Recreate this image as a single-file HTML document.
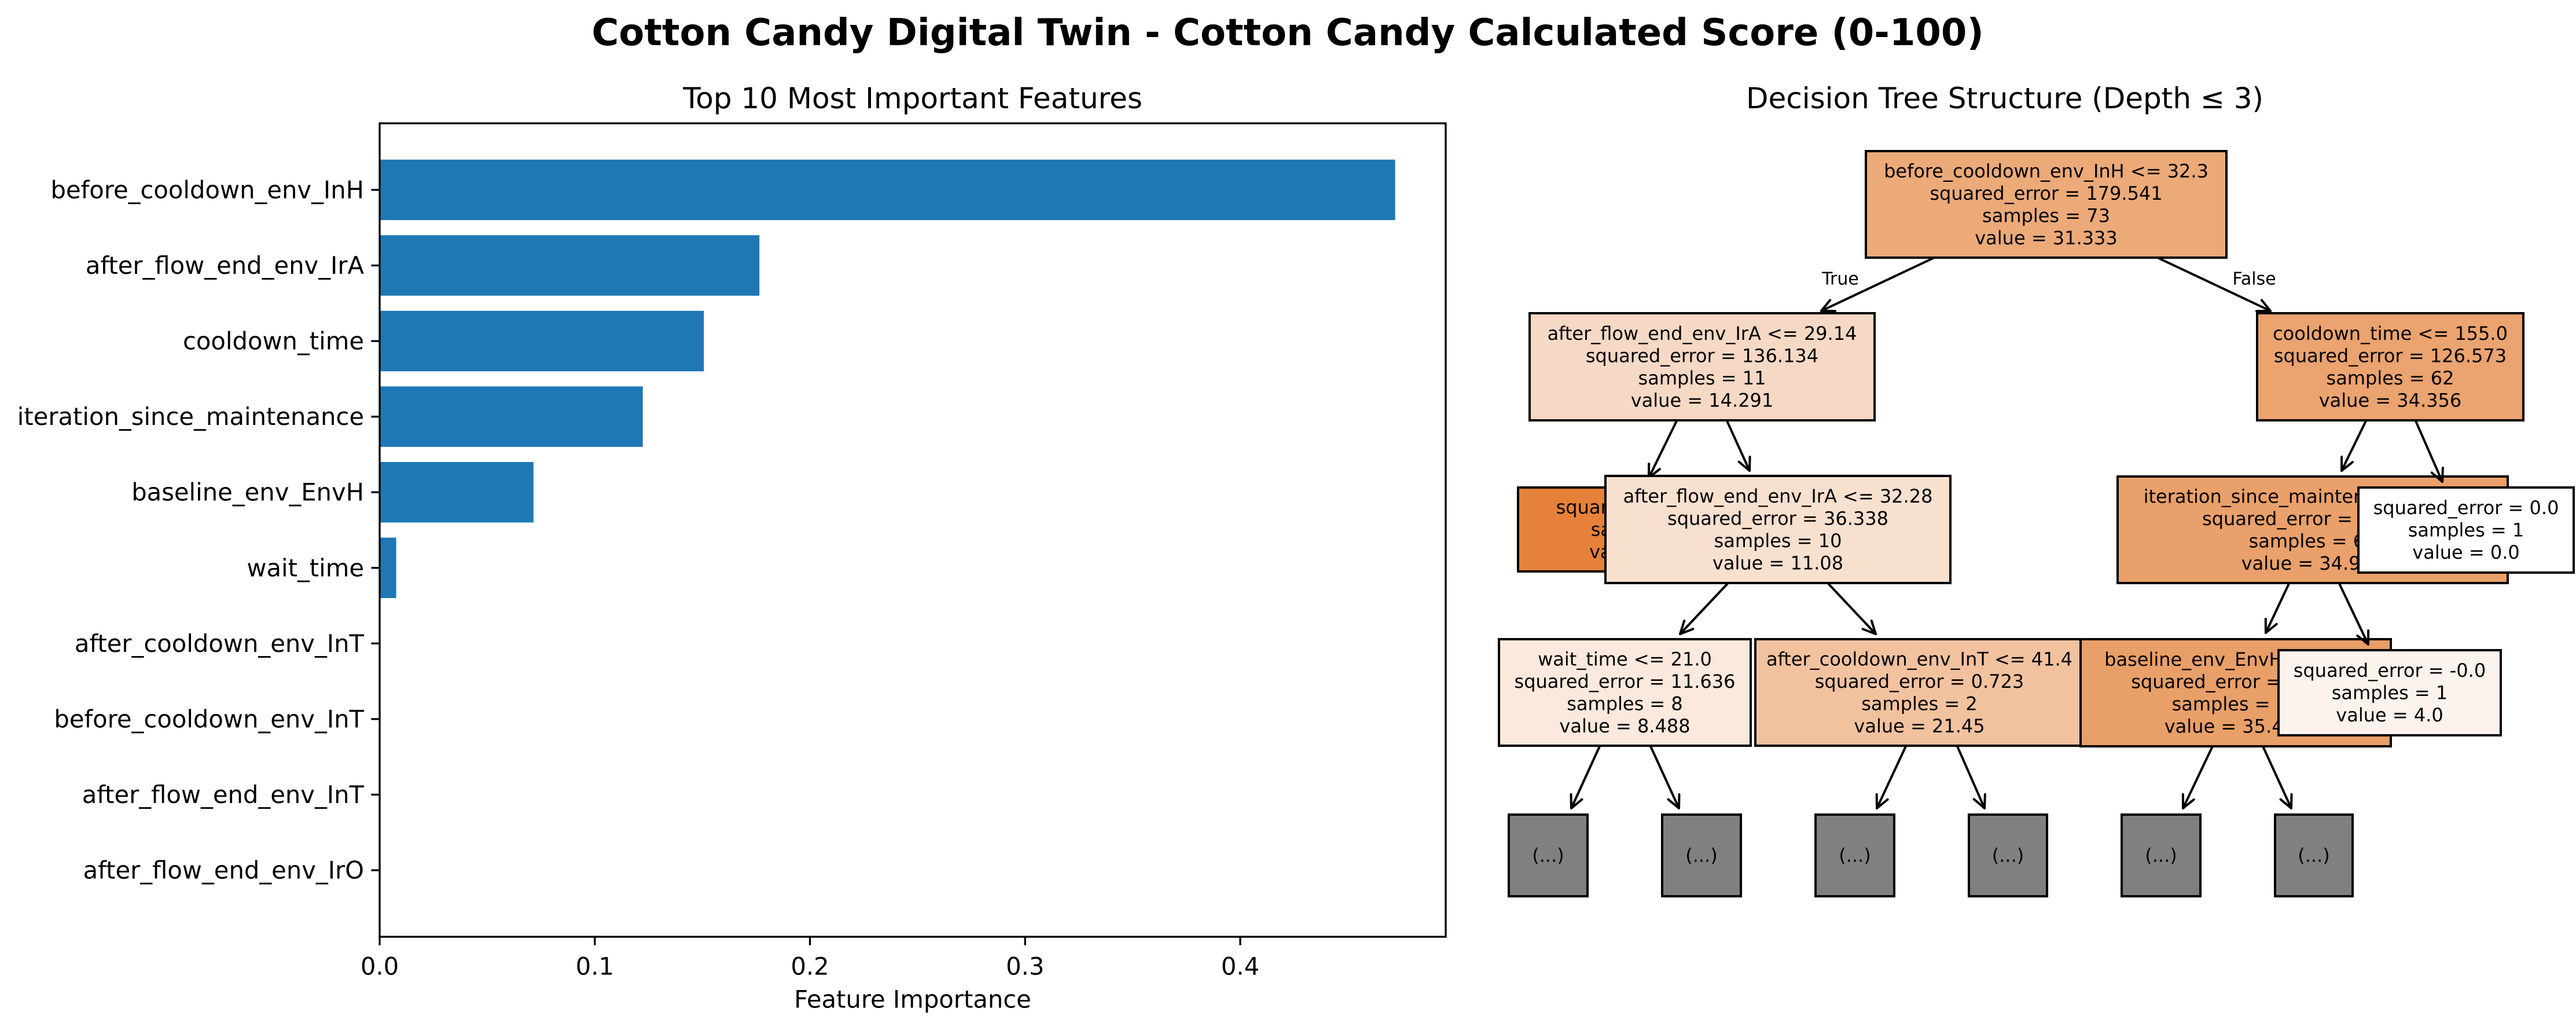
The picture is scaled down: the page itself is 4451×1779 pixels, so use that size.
<!DOCTYPE html>
<html><head><meta charset="utf-8"><style>
html,body{margin:0;padding:0;background:#fff}
svg{display:block}
text{font-family:"DejaVu Sans","Liberation Sans",sans-serif;fill:#000}
</style></head><body>
<svg id="fig" width="4451" height="1779" viewBox="0 0 4451 1779" xmlns="http://www.w3.org/2000/svg">
<rect width="4451" height="1779" fill="#fff"/>
<text x="2225" y="57" font-size="64" font-weight="bold" text-anchor="middle" dominant-baseline="central">Cotton Candy Digital Twin - Cotton Candy Calculated Score (0-100)</text>
<g id="bars"></g>
<text x="3464" y="170" font-size="50" text-anchor="middle" dominant-baseline="central">Decision Tree Structure (Depth ≤ 3)</text>
<g id="tree"></g>
</svg>
<script>
const features = ["before_cooldown_env_InH","after_flow_end_env_IrA","cooldown_time","iteration_since_maintenance","baseline_env_EnvH","wait_time","after_cooldown_env_InT","before_cooldown_env_InT","after_flow_end_env_InT","after_flow_end_env_IrO"];
const importances = [0.472,0.1765,0.1507,0.1223,0.0715,0.0077,0,0,0,0];
const xTicks = [0,0.1,0.2,0.3,0.4];
const xTickLabels = ["0.0","0.1","0.2","0.3","0.4"];

const NS="http://www.w3.org/2000/svg";
function mk(tag,attrs,parent){const e=document.createElementNS(NS,tag);for(const k in attrs)e.setAttribute(k,attrs[k]);parent.appendChild(e);return e;}
const g=document.getElementById('bars');
const L=656,R=2498,T=213,B=1618;
const xmax=0.4955;
const xs=v=>L+(v/xmax)*(R-L);
const n=features.length;
const ylo=-0.4-0.049*(n-0.2), yhi=(n-1)+0.4+0.049*(n-0.2);
const ys=i=>T+(i-ylo)/(yhi-ylo)*(B-T);
const bh=0.8*(B-T)/(yhi-ylo);
features.forEach((f,i)=>{
  const r=mk('rect',{x:xs(0),y:ys(i)-bh/2,width:Math.max(0,xs(importances[i])-xs(0)),height:bh,fill:'#1f77b4'},g);
  
  
  const tk=mk('line',{x1:L-14.6,x2:L,y1:ys(i),y2:ys(i),stroke:'#000','stroke-width':3.3},g);
  
  
  const t=mk('text',{x:L-27,y:ys(i),'font-size':41.7,'text-anchor':'end','dominant-baseline':'central'},g);
  t.textContent=f;
  
  
});
xTicks.forEach((v,i)=>{
  const tk=mk('line',{x1:xs(v),x2:xs(v),y1:B,y2:B+14.6,stroke:'#000','stroke-width':3.3},g);
  
  
  const t=mk('text',{x:xs(v),y:1669,'font-size':41.7,'text-anchor':'middle','dominant-baseline':'central'},g);
  t.textContent=xTickLabels[i];
  
  
});
const fr=mk('rect',{x:L,y:T,width:R-L,height:B-T,fill:'none',stroke:'#000','stroke-width':3.3},g);


const xl=mk('text',{x:(L+R)/2,y:1726,'font-size':41.7,'text-anchor':'middle','dominant-baseline':'central'},g);
xl.textContent='Feature Importance';


const tl=mk('text',{x:(L+R)/2,y:170,'font-size':50,'text-anchor':'middle','dominant-baseline':'central'},g);
tl.textContent='Top 10 Most Important Features';



// tree
const tg=document.getElementById('tree');
function arrow(x1,y1,x2,y2){
  const a=mk('g',{},tg);
  
  
  mk('line',{x1:x1,y1:y1,x2:x2,y2:y2,stroke:'#000','stroke-width':4},a);
  const ang=Math.atan2(y2-y1,x2-x1),len=24,sp=0.45;
  [ang+Math.PI-sp,ang+Math.PI+sp].forEach(b=>mk('line',{x1:x2,y1:y2,x2:x2+len*Math.cos(b),y2:y2+len*Math.sin(b),stroke:'#000','stroke-width':4,'stroke-linecap':'round'},a));
}
function node(name,x1,y1,x2,y2,fill,lines){
  const ng=mk('g',{},tg);
  
  
  mk('rect',{x:x1,y:y1,width:x2-x1,height:y2-y1,fill:fill,stroke:'#000','stroke-width':4},ng);
  const cx=(x1+x2)/2,cy=(y1+y2)/2,sp=38.5;
  lines.forEach((l,i)=>{
    const t=mk('text',{x:cx,y:cy+(i-(lines.length-1)/2)*sp,'font-size':32,'text-anchor':'middle','dominant-baseline':'central'},ng);
    t.textContent=l;
  });
}
function label(x,y,s){
  const t=mk('text',{x:x,y:y,'font-size':30,'text-anchor':'middle','dominant-baseline':'central'},tg);
  t.textContent=s;
  
  
}
node('root-node',3224,261,3847,445,'#ecaa78',['before_cooldown_env_InH <= 32.3','squared_error = 179.541','samples = 73','value = 31.333']);
arrow(3340,446,3147,537);label(3180,482,'True');
node('node-after-flow-irA-29',2643,541,3239,726,'#f6d9c4',['after_flow_end_env_IrA <= 29.14','squared_error = 136.134','samples = 11','value = 14.291']);
arrow(2897,727,2849,825);
node('leaf-dark',2623,842,3075,987,'#e58139',['squared_error = 0.0','samples = 1','value = 47.0']);
arrow(2984,727,3023,813);
node('node-after-flow-irA-32',2774,822,3370,1007,'#f8e0cf',['after_flow_end_env_IrA <= 32.28','squared_error = 36.338','samples = 10','value = 11.08']);
arrow(2985,1008,2903,1095);
node('node-wait-time',2590,1104,3025,1288,'#fae9dc',['wait_time <= 21.0','squared_error = 11.636','samples = 8','value = 8.488']);
arrow(2764,1289,2715,1396);
node('truncated-1',2607,1407,2743,1548,'#808080',['(...)']);
arrow(2852,1289,2901,1396);
node('truncated-2',2872,1407,3008,1548,'#808080',['(...)']);
arrow(3159,1008,3241,1095);
node('node-after-cooldown-inT',3033,1104,3600,1288,'#f2c29f',['after_cooldown_env_InT <= 41.4','squared_error = 0.723','samples = 2','value = 21.45']);
arrow(3293,1289,3243,1396);
node('truncated-3',3137,1407,3273,1548,'#808080',['(...)']);
arrow(3382,1289,3429,1396);
node('truncated-4',3402,1407,3537,1548,'#808080',['(...)']);
arrow(3730,446,3923,537);label(3895,482,'False');
node('node-cooldown-time',3900,541,4360,726,'#eba36f',['cooldown_time <= 155.0','squared_error = 126.573','samples = 62','value = 34.356']);
arrow(4088,727,4046,813);
node('node-iteration',3659,823,4333,1007,'#eaa06a',['iteration_since_maintenance <= 2.5','squared_error = 106.52','samples = 61','value = 34.919']);
arrow(3955,1008,3915,1093);
node('node-baseline-envH',3595,1104,4131,1289,'#e99f68',['baseline_env_EnvH <= 45.5','squared_error = 90.12','samples = 60','value = 35.433']);
arrow(3823,1289,3772,1396);
node('truncated-5',3666,1407,3802,1548,'#808080',['(...)']);
arrow(3910,1289,3959,1396);
node('truncated-6',3931,1407,4065,1548,'#808080',['(...)']);
arrow(4042,1008,4092,1113);
node('leaf-value-4',3937,1123,4321,1270,'#fdf3ed',['squared_error = -0.0','samples = 1','value = 4.0']);
arrow(4174,727,4220,832);
node('leaf-value-0',4075,842,4447,989,'#ffffff',['squared_error = 0.0','samples = 1','value = 0.0']);
</script>
</body></html>
